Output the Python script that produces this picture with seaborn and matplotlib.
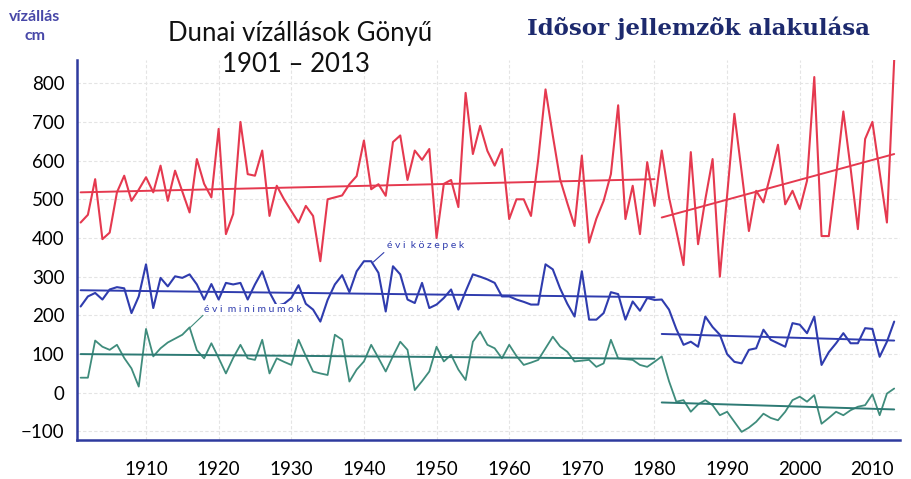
import matplotlib
matplotlib.use("Agg")
import pandas as pd
import matplotlib.pyplot as plt
import seaborn as sns
from matplotlib.ticker import MultipleLocator

# Évek
evek = list(range(1901, 2014))

# Évi maximumok (cm)
evi_max = [440, 460, 552, 397, 414, 518, 561, 496, 525, 557,
           518, 587, 496, 574, 520, 466, 604, 540, 505, 682,
           410, 462, 700, 565, 561, 626, 457, 535, 500, 470,
           440, 483, 457, 340, 500, 505, 510, 539, 560, 652,
           526, 539, 509, 648, 665, 550, 626, 602, 630, 400,
           540, 550, 480, 775, 617, 690, 625, 587, 630, 449,
           500, 500, 457, 604, 784, 665, 552, 490, 431, 613,
           388, 450, 496, 565, 743, 449, 535, 410, 596, 483,
           626, 505, 420, 330, 622, 384, 500, 604, 300, 510,
           721, 570, 418, 522, 492, 565, 641, 487, 522, 475,
           548, 816, 405, 405, 560, 727, 580, 423, 656, 700,
           570, 440, 860]

# Évi közepek (cm)
evi_kozep = [223, 249, 258, 241, 267, 273, 270, 206, 249, 332,
             219, 297, 275, 301, 297, 306, 280, 241, 281, 241,
             284, 280, 284, 241, 280, 314, 260, 225, 230, 245,
             278, 230, 215, 184, 240, 280, 304, 260, 314, 340,
             340, 310, 210, 327, 306, 241, 232, 284, 219, 228,
             245, 267, 215, 262, 306, 300, 293, 284, 249, 249,
             241, 235, 228, 228, 332, 319, 270, 230, 197, 314,
             189, 189, 206, 260, 255, 189, 236, 212, 245, 240,
             241, 215, 165, 124, 132, 119, 197, 170, 150, 100,
             80, 76, 111, 115, 163, 137, 128, 119, 180, 176,
             154, 197, 72, 105, 128, 154, 128, 128, 167, 165,
             93, 132, 184]

# Évi minimumok (cm)
evi_min = [39, 39, 135, 119, 111, 124, 90, 63, 16, 165,
           94, 115, 130, 140, 150, 169, 110, 89, 128, 90,
           50, 90, 124, 89, 85, 137, 50, 89, 80, 72,
           137, 95, 55, 50, 46, 150, 137, 29, 60, 81,
           124, 90, 55, 95, 132, 111, 7, 30, 55, 119,
           81, 98, 60, 33, 132, 158, 124, 115, 89, 124,
           95, 72, 78, 85, 115, 145, 120, 106, 81, 83,
           85, 67, 76, 137, 89, 87, 85, 72, 67, 80,
           94, 30, -23, -19, -49, -30, -19, -32, -58, -49,
           -75, -101, -90, -75, -54, -65, -71, -49, -19, -10,
           -23, -6, -80, -65, -49, -58, -45, -36, -32, -4,
           -58, -2, 11]

# Trendvonalak két szakaszra
trend_evek_1 = [1901, 1980]
trend_evek_2 = [1981, 2013]
trend_max_1 = [518, 552]
trend_max_2 = [453, 617]
trend_kozep_1 = [265, 247]
trend_kozep_2 = [152, 135]
trend_min_1 = [100, 88]
trend_min_2 = [-25, -43]

piros = "#e5394f"
kek = "#2f3cae"
zold = "#3f8c7c"
zold_trend = "#2d7a74"
tengely = "#2e3a9e"

df = pd.DataFrame({"ev": evek, "max": evi_max, "kozep": evi_kozep, "min": evi_min})

sns.set_style("white")
plt.rcParams["font.family"] = ["Lato", "DejaVu Sans"]

fig = plt.figure(figsize=(9.12, 4.79), dpi=100)
ax = fig.add_axes([77 / 912, 39 / 479, 823 / 912, 380 / 479])

sns.lineplot(data=df, x="ev", y="max", ax=ax, color=piros, lw=1.5)
sns.lineplot(data=df, x="ev", y="kozep", ax=ax, color=kek, lw=1.5)
sns.lineplot(data=df, x="ev", y="min", ax=ax, color=zold, lw=1.3)

sns.lineplot(x=trend_evek_1, y=trend_max_1, ax=ax, color=piros, lw=1.4)
sns.lineplot(x=trend_evek_2, y=trend_max_2, ax=ax, color=piros, lw=1.4)
sns.lineplot(x=trend_evek_1, y=trend_kozep_1, ax=ax, color=kek, lw=1.4)
sns.lineplot(x=trend_evek_2, y=trend_kozep_2, ax=ax, color=kek, lw=1.4)
sns.lineplot(x=trend_evek_1, y=trend_min_1, ax=ax, color=zold_trend, lw=1.4)
sns.lineplot(x=trend_evek_2, y=trend_min_2, ax=ax, color=zold_trend, lw=1.4)

ax.set_xlim(1900.5, 2013.8)
ax.set_ylim(-122, 860)
ax.set_xlabel("")
ax.set_ylabel("")

ax.xaxis.set_minor_locator(MultipleLocator(1))
ax.yaxis.set_minor_locator(MultipleLocator(50))
ax.set_xticks(range(1910, 2011, 10))
ax.set_yticks(range(-100, 801, 100))

ax.grid(True, which="major", color="#e4e4e4", lw=0.8, ls=(0, (3, 2)))
ax.set_axisbelow(True)

for s in ["top", "right"]:
    ax.spines[s].set_visible(False)
for s in ["left", "bottom"]:
    ax.spines[s].set_color(tengely)
    ax.spines[s].set_linewidth(1.8)

ax.tick_params(axis="both", which="major", direction="out", color=tengely,
               width=1.4, length=6, labelsize=13.5, labelcolor="black")
ax.tick_params(axis="both", which="minor", direction="out", color=tengely,
               width=1.0, length=3.5)
ax.tick_params(axis="x", which="major", pad=9)
ax.tick_params(axis="y", which="major", pad=3)

# Feliratok
fig.text(300 / 912, 1 - 33 / 479, "Dunai vízállások Gönyű", ha="center", va="center",
         fontsize=18.5, color="#111111")
fig.text(296 / 912, 1 - 65 / 479, "1901 – 2013", ha="center", va="center",
         fontsize=18.5, color="#111111")
fig.text(698 / 912, 1 - 28 / 479, "Idõsor jellemzõk alakulása", ha="center", va="center",
         fontsize=16.5, fontweight="bold", color="#1d2a6e",
         family=["DejaVu Serif"])
fig.text(35 / 912, 1 - 17 / 479, "vízállás", ha="center", va="center",
         fontsize=11.5, fontweight="bold", color="#4747a8")
fig.text(35 / 912, 1 - 36 / 479, "cm", ha="center", va="center",
         fontsize=11.5, fontweight="bold", color="#4747a8")

ax.annotate("é v i  k ö z e p e k", xy=(1941.3, 338), xytext=(1943.2, 370),
            fontsize=7.5, color=kek, ha="left", va="bottom",
            arrowprops=dict(arrowstyle="-", color=kek, lw=0.8,
                            relpos=(0.0, 0.0), shrinkA=0, shrinkB=0))
ax.annotate("é v i  m i n i m u m o k", xy=(1916.1, 169), xytext=(1918.0, 203),
            fontsize=7.5, color=kek, ha="left", va="bottom", zorder=5,
            bbox=dict(boxstyle="square,pad=0.1", fc="white", ec="none"),
            arrowprops=dict(arrowstyle="-", color=zold, lw=0.8,
                            relpos=(0.0, 0.0), shrinkA=0, shrinkB=0))

fig.savefig("out.png", dpi=100)
